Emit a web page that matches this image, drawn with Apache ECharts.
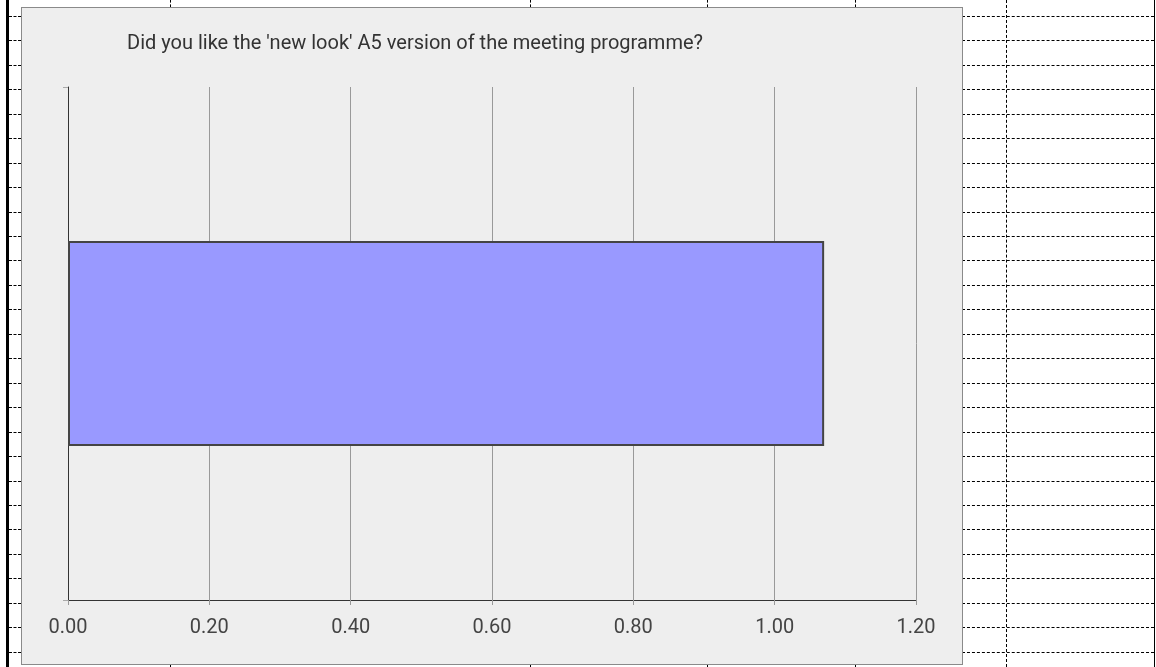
<!DOCTYPE html>
<html>
<head>
<meta charset="utf-8">
<script src="https://cdn.jsdelivr.net/npm/echarts@6/dist/echarts.min.js"></script>
<style>
  html, body { margin: 0; padding: 0; background: #fff; overflow: hidden; }
  #page { position: relative; width: 1156px; height: 667px; }
  .hl { position: absolute; height: 0; border-top: 1px dashed #000; }
  .vl { position: absolute; width: 0; border-left: 1px dashed #000; }
  #box { position: absolute; left: 21px; top: 7px; width: 940px; height: 656px;
         background: #eeeeee; border: 1px solid #8a8a8a; }
  #chart { position: absolute; left: 0; top: 0; width: 1156px; height: 667px; }
</style>
</head>
<body>
<div id="page">
  <div id="deco"></div>
  <div id="box"></div>
  <div id="chart"></div>
</div>
<script>
// ---- data ----
var title = "Did you like the 'new look' A5 version of the meeting programme?";
var categories = [''];
var values = [1.07];
var xTicks = [0, 0.2, 0.4, 0.6, 0.8, 1.0, 1.2];

// ---- spreadsheet background decoration ----
(function () {
  var deco = document.getElementById('deco');
  function add(cls, css) {
    var d = document.createElement('div');
    d.className = cls;
    d.style.cssText = css;
    deco.appendChild(d);
  }
  add('', 'position:absolute;left:6px;top:0;width:3px;height:667px;background:#000;');
  add('', 'position:absolute;left:1154px;top:0;width:1px;height:667px;background:#000;');
  for (var y = 16; y < 667; y += 24.45) {
    var yy = Math.round(y);
    add('hl', 'left:9px;top:' + yy + 'px;width:12px;');
    add('hl', 'left:962px;top:' + yy + 'px;width:192px;');
  }
  add('vl', 'left:1006px;top:0;height:667px;');
  [170, 530, 707, 855].forEach(function (x) {
    add('vl', 'left:' + x + 'px;top:0;height:7px;');
    add('vl', 'left:' + x + 'px;top:664px;height:3px;');
  });
})();

// ---- chart ----
var chart = echarts.init(document.getElementById('chart'), null, { renderer: 'canvas' });
chart.setOption({
  backgroundColor: 'transparent',
  animation: false,
  title: {
    text: title,
    left: 122,
    top: 29,
    textStyle: { fontFamily: 'Roboto, Liberation Sans, Arial', fontSize: 20, fontWeight: 'normal', color: '#333' }
  },
  grid: { left: 68, right: 240, top: 87, bottom: 67, containLabel: false },
  xAxis: {
    type: 'value',
    min: xTicks[0],
    max: xTicks[xTicks.length - 1],
    interval: 0.2,
    axisLine: { show: true, lineStyle: { color: '#333', width: 1 } },
    axisTick: { show: true, length: 5, lineStyle: { color: '#999' } },
    splitLine: { show: true, lineStyle: { color: '#999', width: 1 } },
    axisLabel: {
      margin: 18,
      fontFamily: 'Roboto, Liberation Sans, Arial',
      fontSize: 20,
      color: '#444',
      formatter: function (v) { return v.toFixed(2); }
    }
  },
  yAxis: {
    type: 'category',
    data: categories,
    axisLine: { show: true, onZero: false, lineStyle: { color: '#333', width: 1 } },
    axisTick: { show: true, length: 5, lineStyle: { color: '#aaa' } },
    axisLabel: { show: false },
    splitLine: { show: false }
  },
  series: [{
    type: 'bar',
    data: values,
    barWidth: '40%',
    itemStyle: { color: '#9999ff', borderColor: '#444', borderWidth: 2 }
  }]
});
</script>
</body>
</html>
